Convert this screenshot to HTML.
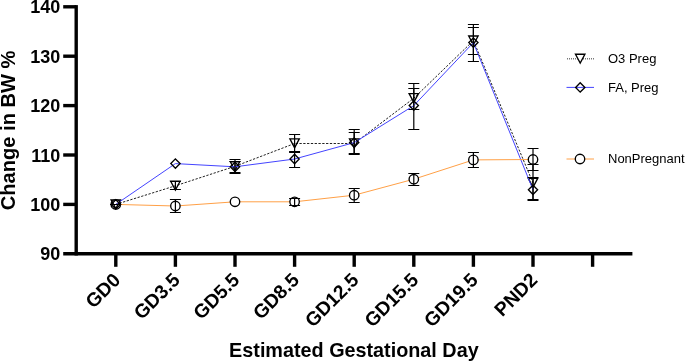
<!DOCTYPE html>
<html><head><meta charset="utf-8"><title>Change in BW %</title>
<style>
html,body{margin:0;padding:0;background:#fff;}
body{width:685px;height:362px;overflow:hidden;}
svg{display:block;font-family:"Liberation Sans",sans-serif;fill:#000;}
</style></head><body>
<svg width="685" height="362" viewBox="0 0 685 362">
<rect width="685" height="362" fill="#fff"/>
<g>
<path d="M115.8,204.4 L175.4,185.8 L235.0,166.3 L294.6,143.5 L354.2,143.5 L413.8,98.2 L473.4,40.6 L533.0,183.0" fill="none" stroke="#222" stroke-width="1.0" stroke-dasharray="2.3,1.5"/>
<path d="M111.1,199.8 L120.5,199.8 L115.8,208.6 Z" fill="none" stroke="#000" stroke-width="1.35" stroke-linejoin="miter"/>
<path d="M115.8,204.5 V204.5 M110.3,204.5 H121.3 M110.3,204.5 H121.3" fill="none" stroke="#000" stroke-width="1.2"/>
<path d="M170.7,181.2 L180.1,181.2 L175.4,190.0 Z" fill="none" stroke="#000" stroke-width="1.35" stroke-linejoin="miter"/>
<path d="M175.4,181.5 V189.5 M169.9,181.5 H180.9 M169.9,189.5 H180.9" fill="none" stroke="#000" stroke-width="1.2"/>
<path d="M230.3,161.7 L239.7,161.7 L235.0,170.5 Z" fill="none" stroke="#000" stroke-width="1.35" stroke-linejoin="miter"/>
<path d="M235.0,159.5 V173.5 M229.5,159.5 H240.5 M229.5,173.5 H240.5" fill="none" stroke="#000" stroke-width="1.2"/>
<path d="M289.9,138.9 L299.3,138.9 L294.6,147.7 Z" fill="none" stroke="#000" stroke-width="1.35" stroke-linejoin="miter"/>
<path d="M294.6,134.5 V152.5 M289.1,134.5 H300.1 M289.1,152.5 H300.1" fill="none" stroke="#000" stroke-width="1.2"/>
<path d="M349.5,138.9 L358.9,138.9 L354.2,147.7 Z" fill="none" stroke="#000" stroke-width="1.35" stroke-linejoin="miter"/>
<path d="M354.2,132.5 V153.5 M348.7,132.5 H359.7 M348.7,153.5 H359.7" fill="none" stroke="#000" stroke-width="1.2"/>
<path d="M409.1,93.6 L418.5,93.6 L413.8,102.4 Z" fill="none" stroke="#000" stroke-width="1.35" stroke-linejoin="miter"/>
<path d="M413.8,88.5 V109.5 M408.3,88.5 H419.3 M408.3,109.5 H419.3" fill="none" stroke="#000" stroke-width="1.2"/>
<path d="M468.7,36.0 L478.1,36.0 L473.4,44.8 Z" fill="none" stroke="#000" stroke-width="1.35" stroke-linejoin="miter"/>
<path d="M473.4,27.5 V54.5 M467.9,27.5 H478.9 M467.9,54.5 H478.9" fill="none" stroke="#000" stroke-width="1.2"/>
<path d="M528.3,178.4 L537.7,178.4 L533.0,187.2 Z" fill="none" stroke="#000" stroke-width="1.35" stroke-linejoin="miter"/>
<path d="M533.0,164.5 V199.5 M527.5,164.5 H538.5 M527.5,199.5 H538.5" fill="none" stroke="#000" stroke-width="1.2"/>
<path d="M115.8,204.4 L175.4,163.6 L235.0,166.8 L294.6,159.0 L354.2,142.6 L413.8,105.6 L473.4,42.6 L533.0,189.8" fill="none" stroke="#4444ff" stroke-width="1.0"/>
<path d="M115.8,199.8 L120.5,204.4 L115.8,209.1 L111.1,204.4 Z" fill="none" stroke="#000" stroke-width="1.35"/>
<path d="M115.8,204.5 V204.5 M110.3,204.5 H121.3 M110.3,204.5 H121.3" fill="none" stroke="#000" stroke-width="1.2"/>
<path d="M175.4,158.9 L180.1,163.6 L175.4,168.2 L170.8,163.6 Z" fill="none" stroke="#000" stroke-width="1.35"/>
<path d="M235.0,162.2 L239.7,166.8 L235.0,171.5 L230.3,166.8 Z" fill="none" stroke="#000" stroke-width="1.35"/>
<path d="M235.0,161.5 V172.5 M229.5,161.5 H240.5 M229.5,172.5 H240.5" fill="none" stroke="#000" stroke-width="1.2"/>
<path d="M294.6,154.3 L299.2,159.0 L294.6,163.7 L290.0,159.0 Z" fill="none" stroke="#000" stroke-width="1.35"/>
<path d="M294.6,151.5 V167.5 M289.1,151.5 H300.1 M289.1,167.5 H300.1" fill="none" stroke="#000" stroke-width="1.2"/>
<path d="M354.2,137.9 L358.8,142.6 L354.2,147.2 L349.6,142.6 Z" fill="none" stroke="#000" stroke-width="1.35"/>
<path d="M354.2,129.5 V154.5 M348.7,129.5 H359.7 M348.7,154.5 H359.7" fill="none" stroke="#000" stroke-width="1.2"/>
<path d="M413.8,100.9 L418.4,105.6 L413.8,110.2 L409.2,105.6 Z" fill="none" stroke="#000" stroke-width="1.35"/>
<path d="M413.8,83.5 V129.5 M408.3,83.5 H419.3 M408.3,129.5 H419.3" fill="none" stroke="#000" stroke-width="1.2"/>
<path d="M473.4,38.0 L478.0,42.6 L473.4,47.2 L468.8,42.6 Z" fill="none" stroke="#000" stroke-width="1.35"/>
<path d="M473.4,24.5 V61.5 M467.9,24.5 H478.9 M467.9,61.5 H478.9" fill="none" stroke="#000" stroke-width="1.2"/>
<path d="M533.0,185.2 L537.6,189.8 L533.0,194.5 L528.4,189.8 Z" fill="none" stroke="#000" stroke-width="1.35"/>
<path d="M533.0,177.5 V200.5 M527.5,177.5 H538.5 M527.5,200.5 H538.5" fill="none" stroke="#000" stroke-width="1.2"/>
<path d="M115.8,204.4 L175.4,206.0 L235.0,201.8 L294.6,201.8 L354.2,195.2 L413.8,179.2 L473.4,159.9 L533.0,159.5" fill="none" stroke="#ffa046" stroke-width="1.0"/>
<circle cx="115.8" cy="204.4" r="4.72" fill="none" stroke="#000" stroke-width="1.35"/>
<path d="M115.8,204.5 V204.5 M110.3,204.5 H121.3 M110.3,204.5 H121.3" fill="none" stroke="#000" stroke-width="1.2"/>
<circle cx="175.4" cy="206.0" r="4.72" fill="#fff" stroke="#000" stroke-width="1.35"/>
<path d="M175.4,199.5 V212.5 M169.9,199.5 H180.9 M169.9,212.5 H180.9" fill="none" stroke="#000" stroke-width="1.2"/>
<circle cx="235.0" cy="201.8" r="4.72" fill="#fff" stroke="#000" stroke-width="1.35"/>
<circle cx="294.6" cy="201.8" r="4.72" fill="#fff" stroke="#000" stroke-width="1.35"/>
<path d="M294.6,198.5 V205.5 M289.1,198.5 H300.1 M289.1,205.5 H300.1" fill="none" stroke="#000" stroke-width="1.2"/>
<circle cx="354.2" cy="195.2" r="4.72" fill="#fff" stroke="#000" stroke-width="1.35"/>
<path d="M354.2,188.5 V202.5 M348.7,188.5 H359.7 M348.7,202.5 H359.7" fill="none" stroke="#000" stroke-width="1.2"/>
<circle cx="413.8" cy="179.2" r="4.72" fill="#fff" stroke="#000" stroke-width="1.35"/>
<path d="M413.8,173.5 V185.5 M408.3,173.5 H419.3 M408.3,185.5 H419.3" fill="none" stroke="#000" stroke-width="1.2"/>
<circle cx="473.4" cy="159.9" r="4.72" fill="#fff" stroke="#000" stroke-width="1.35"/>
<path d="M473.4,152.5 V167.5 M467.9,152.5 H478.9 M467.9,167.5 H478.9" fill="none" stroke="#000" stroke-width="1.2"/>
<circle cx="533.0" cy="159.5" r="4.72" fill="#fff" stroke="#000" stroke-width="1.35"/>
<path d="M533.0,148.5 V170.5 M527.5,148.5 H538.5 M527.5,170.5 H538.5" fill="none" stroke="#000" stroke-width="1.2"/>
</g>
<g opacity="0.999">
<path d="M76.2,5.10 V255.50" stroke="#000" stroke-width="3.4" fill="none"/>
<path d="M63.2,253.8 H632.4" stroke="#000" stroke-width="3.4" fill="none"/>
<path d="M63.2,6.8 H76.2" stroke="#000" stroke-width="3.4" fill="none"/>
<path d="M63.2,56.2 H76.2" stroke="#000" stroke-width="3.4" fill="none"/>
<path d="M63.2,105.6 H76.2" stroke="#000" stroke-width="3.4" fill="none"/>
<path d="M63.2,155.0 H76.2" stroke="#000" stroke-width="3.4" fill="none"/>
<path d="M63.2,204.4 H76.2" stroke="#000" stroke-width="3.4" fill="none"/>
<path d="M115.8,253.8 V266.8" stroke="#000" stroke-width="3.4" fill="none"/>
<path d="M175.4,253.8 V266.8" stroke="#000" stroke-width="3.4" fill="none"/>
<path d="M235.0,253.8 V266.8" stroke="#000" stroke-width="3.4" fill="none"/>
<path d="M294.6,253.8 V266.8" stroke="#000" stroke-width="3.4" fill="none"/>
<path d="M354.2,253.8 V266.8" stroke="#000" stroke-width="3.4" fill="none"/>
<path d="M413.8,253.8 V266.8" stroke="#000" stroke-width="3.4" fill="none"/>
<path d="M473.4,253.8 V266.8" stroke="#000" stroke-width="3.4" fill="none"/>
<path d="M533.0,253.8 V266.8" stroke="#000" stroke-width="3.4" fill="none"/>
<path d="M592.6,253.8 V266.8" stroke="#000" stroke-width="3.4" fill="none"/>
<text x="60.3" y="13.4" text-anchor="end" font-size="18" font-weight="bold">140</text>
<text x="60.3" y="62.8" text-anchor="end" font-size="18" font-weight="bold">130</text>
<text x="60.3" y="112.2" text-anchor="end" font-size="18" font-weight="bold">120</text>
<text x="60.3" y="161.6" text-anchor="end" font-size="18" font-weight="bold">110</text>
<text x="60.3" y="211.0" text-anchor="end" font-size="18" font-weight="bold">100</text>
<text x="60.3" y="260.4" text-anchor="end" font-size="18" font-weight="bold">90</text>
<text transform="translate(121.5,281.2) rotate(-45)" text-anchor="end" font-size="19.3" font-weight="bold">GD0</text>
<text transform="translate(181.1,281.2) rotate(-45)" text-anchor="end" font-size="19.3" font-weight="bold">GD3.5</text>
<text transform="translate(240.7,281.2) rotate(-45)" text-anchor="end" font-size="19.3" font-weight="bold">GD5.5</text>
<text transform="translate(300.3,281.2) rotate(-45)" text-anchor="end" font-size="19.3" font-weight="bold">GD8.5</text>
<text transform="translate(359.9,281.2) rotate(-45)" text-anchor="end" font-size="19.3" font-weight="bold">GD12.5</text>
<text transform="translate(419.5,281.2) rotate(-45)" text-anchor="end" font-size="19.3" font-weight="bold">GD15.5</text>
<text transform="translate(479.1,281.2) rotate(-45)" text-anchor="end" font-size="19.3" font-weight="bold">GD19.5</text>
<text transform="translate(538.7,281.2) rotate(-45)" text-anchor="end" font-size="19.3" font-weight="bold">PND2</text>
<text transform="translate(15,210.2) rotate(-90)" font-size="20.1" font-weight="bold">Change in BW %</text>
<text x="229.1" y="357" font-size="19.8" font-weight="bold">Estimated Gestational Day</text>
</g>
<g opacity="0.999">
<path d="M567,58.8 H594" stroke="#777" stroke-width="1.5" stroke-dasharray="1,1" fill="none"/>
<path d="M566.5,87.4 H594" stroke="#4444ff" stroke-width="1" fill="none"/>
<path d="M566.5,159 H594" stroke="#ffa046" stroke-width="1" fill="none"/>
<path d="M575.5,54.2 L584.9,54.2 L580.2,63.0 Z" fill="#fff" stroke="#000" stroke-width="1.35" stroke-linejoin="miter"/>
<path d="M580.2,82.8 L584.9,87.4 L580.2,92.1 L575.6,87.4 Z" fill="none" stroke="#000" stroke-width="1.35"/>
<circle cx="580.0" cy="159.0" r="4.72" fill="#fff" stroke="#000" stroke-width="1.35"/>
<text x="608" y="63.2" font-size="13">O3 Preg</text>
<text x="608" y="91.8" font-size="13">FA, Preg</text>
<text x="608" y="163.4" font-size="13">NonPregnant</text>
</g>
</svg>
</body></html>
